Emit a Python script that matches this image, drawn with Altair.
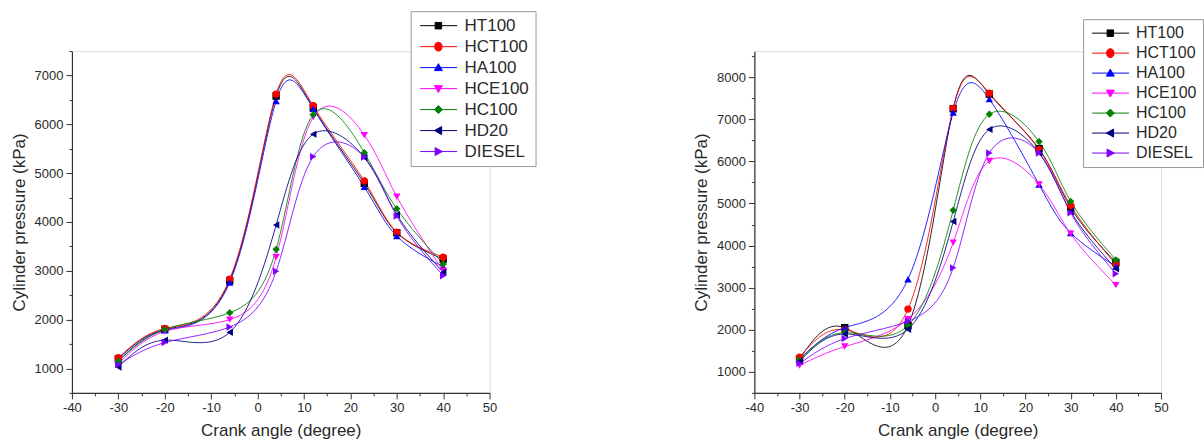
import altair as alt
import pandas as pd

series = ["HT100", "HCT100", "HA100", "HCE100", "HC100", "HD20", "DIESEL"]
colors = ["#000000", "#ff0000", "#0000ff", "#ff00ff", "#008000", "#000080", "#8000ff"]
point_shapes = ["square", "circle", "triangle-up", "triangle-down", "diamond",
                "triangle-left", "triangle-right"]
crank = [-30, -20, -6, 4, 12, 23, 30, 40]

# left panel (kPa)
left_HT100 = [1200, 1800, 2800, 6580, 6340, 4790, 3780, 3240]
left_HCT100 = [1220, 1820, 2830, 6620, 6380, 4840, 3790, 3280]
left_HA100 = [1160, 1780, 2760, 6480, 6320, 4720, 3710, 3080]
left_HCE100 = [1100, 1760, 2000, 3280, 6150, 5780, 4520, 3000]
left_HC100 = [1150, 1800, 2140, 3440, 6200, 5420, 4270, 3140]
left_HD20 = [1030, 1580, 1740, 3940, 5800, 5320, 4150, 2970]
left_DIESEL = [1080, 1530, 1850, 2990, 5340, 5330, 4120, 2900]

# right panel (kPa)
right_HT100 = [1300, 2050, 2100, 7250, 7600, 6300, 4900, 3600]
right_HCT100 = [1350, 2000, 2490, 7260, 7620, 6280, 4950, 3550]
right_HA100 = [1300, 2050, 3200, 7160, 7480, 5450, 4300, 3500]
right_HCE100 = [1150, 1600, 2250, 4070, 6010, 5450, 4280, 3060]
right_HC100 = [1280, 1930, 2100, 4840, 7120, 6470, 5050, 3660]
right_HD20 = [1250, 1900, 2010, 4570, 6760, 6200, 4810, 3450]
right_DIESEL = [1200, 1790, 2200, 3470, 6200, 6200, 4780, 3330]

left_vals = [left_HT100, left_HCT100, left_HA100, left_HCE100, left_HC100, left_HD20, left_DIESEL]
right_vals = [right_HT100, right_HCT100, right_HA100, right_HCE100, right_HC100, right_HD20, right_DIESEL]

# legend symbols: a line with the marker on it (custom SVG paths, unit = 5 px)
LINE = "M-1,0H6.4"
legend_paths = [
    LINE + "M2,-0.65H3.3V0.65H2Z",
    LINE + "M1.95,0A0.72,0.72 0 1,0 3.35,0A0.72,0.72 0 1,0 1.95,0Z",
    LINE + "M2.65,-0.8L3.45,0.6H1.85Z",
    LINE + "M2.65,0.8L3.45,-0.6H1.85Z",
    LINE + "M2.65,-0.8L3.45,0L2.65,0.8L1.85,0Z",
    LINE + "M1.85,0L3.3,-0.8V0.8Z",
    LINE + "M3.45,0L2,-0.8V0.8Z",
]

FONT = "Liberation Sans"
TXT = "#2a2a2a"


def make_df(vals):
    rows = []
    for name, v in zip(series, vals):
        for a, p in zip(crank, v):
            rows.append({"s": name, "angle": a, "p": p})
    return pd.DataFrame(rows)


def panel(vals, ydom, width, height, lx, ly, lab_size, row_pad):
    df = make_df(vals)
    xaxis = alt.Axis(
        values=list(range(-40, 51, 5)),
        labelExpr="datum.value % 10 === 0 ? '' + datum.value : ''",
        tickSize={"condition": {"test": "datum.value % 10 === 0", "value": 6}, "value": 3},
        labelFont=FONT, labelFontSize=13, labelColor=TXT, labelPadding=3,
        titleFont=FONT, titleFontSize=17, titleFontWeight="normal", titleColor=TXT,
        titlePadding=8, domainColor="#333", tickColor="#333", domainWidth=1.2,
        grid=False, labelFlush=False,
    )
    yaxis = alt.Axis(
        values=list(range(500, int(ydom[1]) + 1, 500)),
        labelExpr="datum.value % 1000 === 0 ? '' + datum.value : ''",
        tickSize={"condition": {"test": "datum.value % 1000 === 0", "value": 6}, "value": 3},
        labelFont=FONT, labelFontSize=13, labelColor=TXT, labelPadding=3,
        titleFont=FONT, titleFontSize=17, titleFontWeight="normal", titleColor=TXT,
        titlePadding=6, domainColor="#333", tickColor="#333", domainWidth=1.2,
        grid=False, labelFlush=False,
    )
    x = alt.X("angle:Q", title="Crank angle (degree)",
              scale=alt.Scale(domain=[-40, 50], nice=False, zero=False), axis=xaxis)
    y = alt.Y("p:Q", title="Cylinder pressure (kPa)",
              scale=alt.Scale(domain=ydom, nice=False, zero=False), axis=yaxis)

    fill_scale = alt.Scale(domain=series, range=colors)
    stroke_scale = alt.Scale(domain=series, range=colors)
    shape_scale = alt.Scale(domain=series, range=legend_paths)

    leg = alt.Legend(
        title=None, orient="none", legendX=lx, legendY=ly,
        symbolSize=100, symbolStrokeWidth=1, symbolOpacity=1,
        symbolFillColor="#000000",
        labelFont=FONT, labelFontSize=lab_size, labelColor=TXT, labelOffset=31,
        labelLimit=200, rowPadding=row_pad, padding=6,
        strokeColor="#9a9a9a", fillColor="white",
    )

    legend_layer = alt.Chart(df).transform_filter("false").mark_point(
        filled=True, opacity=1, size=100
    ).encode(
        x=x, y=y,
        fill=alt.Fill("s:N", scale=fill_scale, legend=leg),
        stroke=alt.Stroke("s:N", scale=stroke_scale, legend=leg),
        shape=alt.Shape("s:N", scale=shape_scale, legend=leg),
    )

    lines = alt.Chart(df).mark_line(interpolate="natural", strokeWidth=1.0, opacity=0.85).encode(
        x=x, y=y,
        stroke=alt.Stroke("s:N", scale=stroke_scale, legend=None),
        detail="s:N",
    )

    layers = [legend_layer, lines]
    for name, shp in zip(series, point_shapes):
        layers.append(
            alt.Chart(df).transform_filter(alt.datum.s == name).mark_point(
                filled=True, shape=shp, size=55, opacity=1
            ).encode(
                x=x, y=y,
                fill=alt.Fill("s:N", scale=fill_scale, legend=None),
            )
        )
    return alt.layer(*layers).properties(width=width, height=height)


left = panel(left_vals, [500, 7500], 418, 342, 339, -40, 17, 3)
right = panel(right_vals, [500, 8620], 407, 342, 329, -32, 16, 4)

chart = alt.hconcat(left, right, spacing=265, bounds="flush").resolve_scale(
    fill="independent", stroke="independent", shape="independent"
).resolve_legend(
    fill="independent", stroke="independent", shape="independent"
).properties(
    padding={"left": 9, "top": 10, "right": 0, "bottom": 0}
).configure_view(stroke=None).configure(background="white")

chart.save("out.html", embed_options={"renderer": "svg", "actions": False})
